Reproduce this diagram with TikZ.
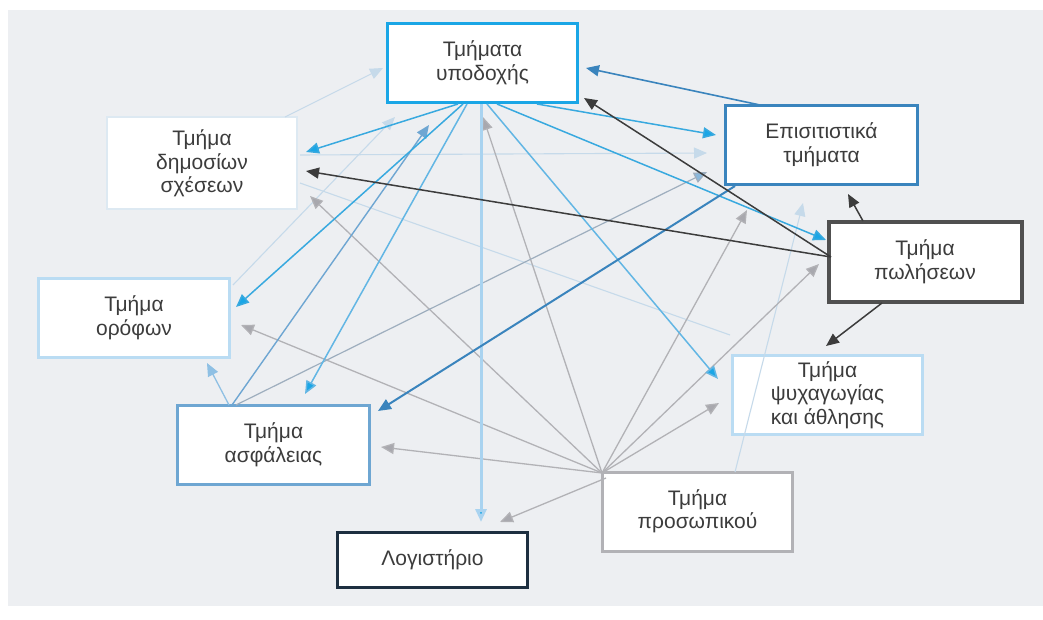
\documentclass[tikz,border=0pt]{standalone}
\usepackage{fontspec}
\setmainfont{Liberation Sans}
\usetikzlibrary{arrows.meta,calc}
\definecolor{bg}{HTML}{EDEFF2}
\definecolor{txt}{HTML}{3C3C3C}
\definecolor{cyanb}{HTML}{1AA6E6}
\definecolor{cyanl}{HTML}{38A9DF}
\definecolor{cyanp}{HTML}{A9D3F0}
\definecolor{cyanm}{HTML}{62B6E4}
\definecolor{steel}{HTML}{3A84BD}
\definecolor{darkl}{HTML}{3C3C3C}
\definecolor{grayl}{HTML}{B2B2B6}
\definecolor{grayh}{HTML}{A8A8AE}
\definecolor{lblue}{HTML}{8FC0E4}
\definecolor{sblue}{HTML}{6EA6D2}
\definecolor{faint}{HTML}{C6DAEA}
\definecolor{navy}{HTML}{1D2F40}
\tikzset{
  box/.style={draw, fill=white, text=txt, minimum width=190pt, minimum height=79pt, inner sep=0pt, align=center, font=\fontsize{21}{23.5}\selectfont},
  tip/.style={-{Triangle[length=13pt,width=11pt,fill=#1]}},
  cy/.style={draw=cyanl, line width=1.5pt, tip=cyanb},
  dk/.style={draw=darkl, line width=1.5pt, tip=darkl},
  st/.style={draw=steel, line width=1.6pt, tip=steel},
  gr/.style={draw=grayl, line width=1.3pt, tip=grayh},
  fa/.style={draw=faint, line width=1.1pt, tip=faint},
}
\begin{document}
\begin{tikzpicture}[x=1pt,y=-1pt]
\useasboundingbox (0,0) rectangle (1043,620);
\fill[white] (0,0) rectangle (1043,620);
\fill[bg] (8,10) rectangle (1043,606);
% nodes
\node[box, draw=cyanb, line width=3.5pt] (rec) at (482.5,63) {Τμήματα\\υποδοχής};
\node[box, draw=steel, line width=3.5pt, minimum width=192pt] (epi) at (821.5,145) {Επισιτιστικά\\τμήματα};
\node[box, draw=darkl!90, line width=4pt, minimum width=193pt] (pol) at (925,262) {Τμήμα\\πωλήσεων};
\node[box, draw=faint!60, line width=2pt, minimum height=92pt] (dim) at (202,163.5) {Τμήμα\\δημοσίων\\σχέσεων};
\node[box, draw=cyanp!80, line width=2.5pt, minimum width=191pt] (oro) at (134,318) {Τμήμα\\ορόφων};
\node[box, draw=cyanp!80, line width=2.5pt, minimum width=190pt] (psy) at (827.5,395) {Τμήμα\\ψυχαγωγίας\\και άθλησης};
\node[box, draw=sblue, line width=3pt, minimum width=192pt] (asf) at (273.5,445) {Τμήμα\\ασφάλειας};
\node[box, draw=navy, line width=3.5pt, minimum height=55pt] (log) at (432.5,560) {Λογιστήριο};
\node[box, draw=grayl, line width=3pt] (pro) at (697.5,511.5) {Τμήμα\\προσωπικού};
% faint lines
\draw[fa] ($(dim.center)+(83,-46.5)$) -- ($(rec.center)+(-99.5,5)$);
\draw[fa] ($(dim.center)+(98,-8.5)$) -- ($(epi.center)+(-114.5,8)$);
\draw[fa,-] ($(dim.center)+(98,19.5)$) -- ($(psy.center)+(-97.5,-60)$);
\draw[fa] ($(oro.center)+(99,-33)$) -- ($(rec.center)+(-87.5,54)$);
\draw[fa] ($(pro.center)+(37.5,-39.5)$) -- ($(epi.center)+(-18.5,58)$);
% gray lines from personnel
\draw[gr] ($(pro.center)+(-95.5,-38.5)$) -- ($(dim.center)+(108,32.5)$);
\draw[gr] ($(pro.center)+(-95.5,-38.5)$) -- ($(oro.center)+(107,7)$);
\draw[gr] ($(pro.center)+(-95.5,-38.5)$) -- ($(asf.center)+(107.5,2)$);
\draw[gr] ($(pro.center)+(-91.5,-33.5)$) -- ($(log.center)+(67.5,-38)$);
\draw[gr] ($(pro.center)+(-95.5,-38.5)$) -- ($(rec.center)+(0.5,54)$);
\draw[gr] ($(pro.center)+(-95.5,-38.5)$) -- ($(epi.center)+(-74.5,65)$);
\draw[gr] ($(pro.center)+(-95.5,-38.5)$) -- ($(pol.center)+(-106,2)$);
\draw[gr] ($(pro.center)+(-95.5,-38.5)$) -- ($(psy.center)+(-108.5,8)$);
% light lines from security
\draw[draw=lblue, line width=1.3pt, tip=lblue] ($(asf.center)+(-44.5,-40)$) -- ($(oro.center)+(73,45)$);
\draw[draw=sblue, line width=1.4pt, tip=sblue] ($(asf.center)+(-41.5,-40)$) -- ($(rec.center)+(-53.5,62)$);
\draw[draw=grayl!70!sblue, line width=1.2pt, tip=sblue!80] ($(asf.center)+(-37.5,-40)$) -- ($(epi.center)+(-114.5,27)$);
% cyan lines from reception
\draw[cy] ($(rec.center)+(-24.5,41)$) -- ($(dim.center)+(104,-11.5)$);
\draw[cy] ($(rec.center)+(-19.5,41)$) -- ($(oro.center)+(102,-11)$);
\draw[cy, draw=cyanm] ($(rec.center)+(-15.5,41)$) -- ($(asf.center)+(31.5,-51)$);
\draw[cy, draw=cyanp, line width=3pt] ($(rec.center)+(-1.5,41)$) -- ($(log.center)+(48.5,-38)$);
\draw[cy, draw=cyanm] ($(rec.center)+(4.5,41)$) -- ($(psy.center)+(-109.5,-16)$);
\draw[cy] ($(rec.center)+(14.5,41)$) -- ($(pol.center)+(-99,-22)$);
\draw[cy] ($(rec.center)+(54.5,41)$) -- ($(epi.center)+(-105.5,-10)$);
% steel lines from catering
\draw[st] ($(epi.center)+(-61.5,-40)$) -- ($(rec.center)+(103.5,5)$);
\draw[st, line width=2pt] ($(epi.center)+(-86.5,41)$) -- ($(asf.center)+(104.5,-34)$);
% dark lines from sales
\draw[dk] ($(pol.center)+(-94,-5)$) -- ($(rec.center)+(101.5,35)$);
\draw[dk] ($(pol.center)+(-94,-5)$) -- ($(dim.center)+(104,7.5)$);
\draw[dk] ($(pol.center)+(-62,-41)$) -- ($(epi.center)+(26.5,49)$);
\draw[dk] ($(pol.center)+(-43,41)$) -- ($(psy.center)+(-1.5,-49)$);
\end{tikzpicture}
\end{document}
